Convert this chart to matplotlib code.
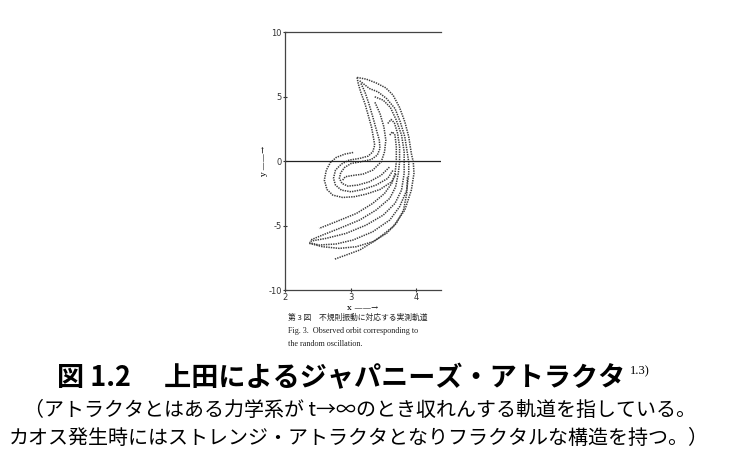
import matplotlib
matplotlib.use("Agg")
import matplotlib.pyplot as plt
import numpy as np

plt.rcParams['font.family'] = ['Noto Sans CJK JP', 'DejaVu Sans']
plt.rcParams['axes.unicode_minus'] = False

# strands of the attractor (x, y)
strand_x = [
    [3.10, 3.24, 3.39, 3.54, 3.65, 3.75, 3.83, 3.89, 3.93, 3.96, 3.97, 3.93, 3.83, 3.65, 3.39, 3.14, 2.93, 2.75],
    [3.14, 3.29, 3.42, 3.55, 3.68, 3.76, 3.83, 3.87, 3.89, 3.89, 3.86, 3.75, 3.60, 3.34, 3.04, 2.78, 2.52, 2.37],
    [3.37, 3.50, 3.61, 3.70, 3.78, 3.82, 3.82, 3.82, 3.78, 3.68, 3.50, 3.24, 2.93, 2.63, 2.42, 2.37],
    [3.57, 3.62, 3.67, 3.72, 3.75, 3.75, 3.73, 3.69, 3.60, 3.39, 3.14, 2.83, 2.57, 2.39],
    [3.60, 3.64, 3.68, 3.70, 3.70, 3.68, 3.63, 3.52, 3.34, 3.09, 2.78, 2.52],
    [3.04, 2.91, 2.78, 2.69, 2.63, 2.60, 2.64, 2.73, 2.88, 3.06, 3.24, 3.45, 3.63, 3.70],
    [3.10, 3.12, 3.16, 3.22, 3.27, 3.32, 3.35, 3.37, 3.34, 3.27, 3.14, 2.98, 2.86, 2.77, 2.74, 2.77, 2.86, 3.01, 3.19, 3.39, 3.57, 3.65],
    [3.16, 3.22, 3.28, 3.34, 3.39, 3.44, 3.45, 3.41, 3.32, 3.16, 3.01, 2.91, 2.85, 2.83, 2.87, 2.96, 3.11, 3.29, 3.47, 3.60],
    [2.88, 2.92, 3.04, 3.19, 3.34, 3.47, 3.52, 3.54, 3.51, 3.45, 3.37],
    [2.37, 2.57, 2.83, 3.09, 3.34, 3.55, 3.70, 3.81, 3.86, 3.87],
]
strand_y = [
    [6.49, 6.36, 6.07, 5.68, 5.12, 4.16, 3.05, 1.89, 0.59, -0.08, -0.96, -2.25, -3.80, -5.09, -6.12, -6.90, -7.29, -7.62],
    [6.23, 5.63, 5.37, 4.86, 4.08, 3.05, 1.89, 0.59, -0.08, -0.96, -2.25, -3.54, -4.57, -5.48, -6.12, -6.43, -6.51, -6.33],
    [4.99, 4.73, 4.16, 3.18, 2.02, 0.72, -0.08, -0.96, -2.25, -3.28, -4.19, -4.96, -5.61, -5.99, -6.18, -6.25],
    [2.92, 3.23, 2.97, 2.14, 1.11, -0.08, -0.96, -1.99, -2.89, -3.80, -4.57, -5.22, -5.74, -6.12],
    [2.02, 2.27, 2.02, 1.11, -0.08, -0.96, -1.73, -2.51, -3.28, -4.06, -4.70, -5.22],
    [0.67, 0.54, 0.28, -0.13, -0.70, -1.47, -2.20, -2.64, -2.82, -2.76, -2.56, -2.20, -1.60, -0.96],
    [6.49, 5.97, 5.30, 4.47, 3.57, 2.66, 1.83, 1.24, 0.72, 0.39, 0.21, 0.08, -0.23, -0.70, -1.34, -1.86, -2.25, -2.38, -2.20, -1.86, -1.34, -0.70],
    [6.02, 5.37, 4.47, 3.44, 2.53, 1.63, 0.98, 0.47, 0.13, -0.05, -0.18, -0.49, -0.90, -1.34, -1.73, -1.94, -1.86, -1.60, -1.09, -0.44],
    [-1.47, -1.21, -1.11, -1.01, -0.70, -0.05, 0.72, 1.63, 2.66, 3.70, 4.60],
    [-6.38, -6.64, -6.77, -6.64, -6.25, -5.61, -4.83, -3.80, -2.51, -1.21],
]

x_ticks = [2, 3, 4]
y_ticks = [-10, -5, 0, 5, 10]

fig = plt.figure(figsize=(7.31, 4.67), dpi=100)
ax = fig.add_axes([0.390, 0.379, 0.213, 0.552])

for xs, ys in zip(strand_x, strand_y):
    ax.plot(xs, ys, color='#3a3a3a', lw=1.1, linestyle=(0, (0.9, 0.7)))

ax.axhline(0, color='#222222', lw=0.9)
ax.set_xlim(2, 4.38)
ax.set_ylim(-10, 10)
ax.spines['right'].set_visible(False)
for s in ['left', 'top', 'bottom']:
    ax.spines[s].set_color('#444444')
    ax.spines[s].set_linewidth(0.9)

ax.set_xticks(x_ticks)
ax.set_yticks(y_ticks)
ax.tick_params(axis='both', labelsize=6, length=3, width=0.8, direction='inout', pad=1, colors='#333333')
for lab in ax.get_xticklabels() + ax.get_yticklabels():
    lab.set_family('DejaVu Sans')

ax.set_xlabel('x ——→', fontsize=6, family='DejaVu Serif', labelpad=1)
ax.set_ylabel('y ——→', fontsize=6, family='DejaVu Serif', labelpad=0)

# original figure caption under the plot
fig.text(0.394, 0.320, '第 3 図　不規則振動に対応する実測軌道', fontsize=5.6, color='#222222', va='center')
fig.text(0.394, 0.291, 'Fig. 3.  Observed orbit corresponding to', fontsize=5.9,
         family='Liberation Serif', color='#222222', va='center')
fig.text(0.394, 0.263, 'the random oscillation.', fontsize=5.9,
         family='Liberation Serif', color='#222222', va='center')

# page text
fig.text(0.078, 0.190, '図 1.2　 上田によるジャパニーズ・アトラクタ', fontsize=19.5,
         fontweight='bold', va='center')
fig.text(0.862, 0.205, '1.3)', fontsize=9, family='Liberation Serif', va='center')
fig.text(0.033, 0.120, '（アトラクタとはある力学系が t→∞のとき収れんする軌道を指している。',
         fontsize=14.4, va='center')
fig.text(0.012, 0.060, 'カオス発生時にはストレンジ・アトラクタとなりフラクタルな構造を持つ。）',
         fontsize=14.4, va='center')

fig.savefig('out.png', dpi=100)
